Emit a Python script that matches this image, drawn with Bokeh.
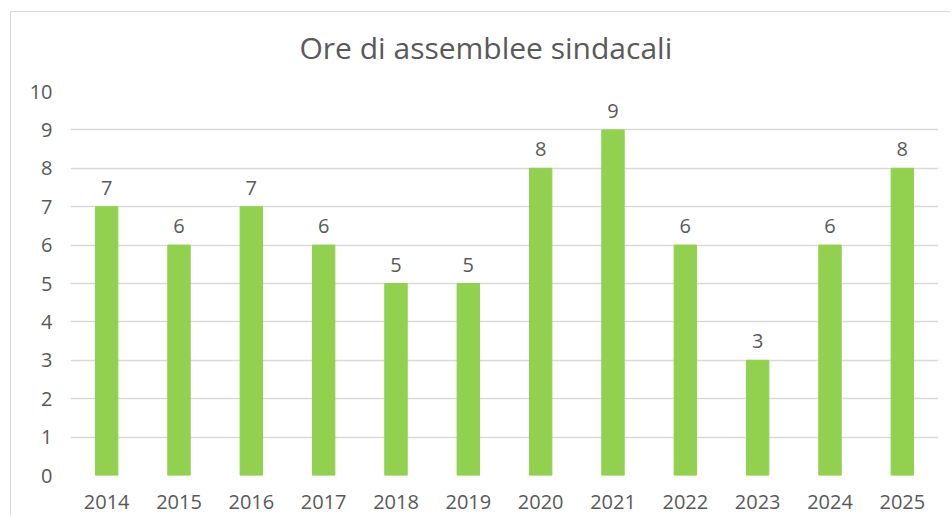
from bokeh.plotting import figure
from bokeh.models import ColumnDataSource, LabelSet, Range1d, SingleIntervalTicker
from bokeh.core.properties import value
from bokeh.embed import file_html
from bokeh.resources import INLINE

years = ["2014", "2015", "2016", "2017", "2018", "2019", "2020", "2021", "2022", "2023", "2024", "2025"]
hours = [7, 6, 7, 6, 5, 5, 8, 9, 6, 3, 6, 8]
title_text = "Ore di assemblee sindacali"
y_max = 10

FONT = "Open Sans"
TXT = "#595959"
GRID = "#d9d9d9"

src = ColumnDataSource(dict(year=years, hours=hours, lab=[str(v) for v in hours]))

p = figure(x_range=years, y_range=Range1d(0, y_max), width=940, height=504,
           output_backend="svg", toolbar_location=None,
           min_border_left=59, min_border_right=13, min_border_top=79, min_border_bottom=41,
           title=title_text)
p.styles = {"margin-left": "10px", "margin-top": "11px",
            "border-left": "1px solid #d9d9d9", "border-top": "1px solid #d9d9d9"}

p.vbar(x="year", top="hours", width=0.31, source=src, color="#92D050")

labels = LabelSet(x="year", y="hours", text="lab", source=src, text_align="center",
                  text_baseline="alphabetic", y_offset=12, text_font=value(FONT),
                  text_font_size="20px", text_color=TXT)
p.add_layout(labels)

p.title.text_font = FONT
p.title.text_font_size = "30px"
p.title.text_font_style = "normal"
p.title.text_color = TXT
p.title.align = "left"
p.title.vertical_align = "top"
p.title.standoff = 28
p.title.offset = 229
p.title.padding = dict(left=0, right=0, top=0, bottom=8)

p.outline_line_color = None
p.xgrid.grid_line_color = None
p.ygrid.grid_line_color = GRID
p.ygrid.grid_line_width = 1.5
p.yaxis.ticker = SingleIntervalTicker(interval=1)

for ax in (p.xaxis, p.yaxis):
    ax.axis_line_color = None
    ax.major_tick_line_color = None
    ax.minor_tick_line_color = None
    ax.major_tick_out = 0
    ax.major_tick_in = 0
    ax.major_label_text_font = FONT
    ax.major_label_text_font_size = "20px"
    ax.major_label_text_color = TXT
p.yaxis.major_label_standoff = 14
p.xaxis.major_label_standoff = 19

open("out.html", "w").write(file_html(p, INLINE))
